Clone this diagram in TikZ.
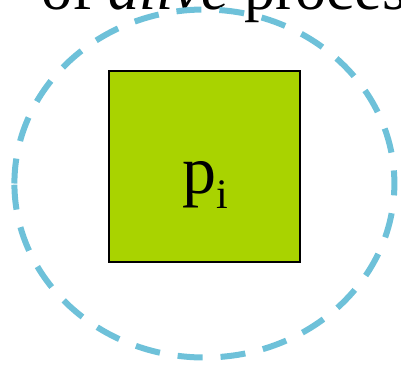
\documentclass[tikz,border=0pt]{standalone}
\usepackage{fontspec}
\setmainfont{Liberation Serif}
\definecolor{alblue}{HTML}{6EC1D9}
\definecolor{prgreen}{HTML}{A9D300}
\tikzset{
  procbox/.style  = {rectangle, draw=black, line width=2pt, fill=prgreen,
                     minimum size=191pt, inner sep=0pt},
  alivering/.style = {draw=alblue, line width=6pt,
                      dash pattern=on 25pt off 18pt},
  headtxt/.style  = {font=\fontsize{62}{62}\selectfont, inner sep=0pt, anchor=base west},
  pilbl/.style    = {font=\fontsize{68}{68}\selectfont, inner sep=0pt, anchor=base west},
}
\begin{document}
\begin{tikzpicture}[x=1pt,y=-1pt]
  \useasboundingbox (0,0) rectangle (401,365);
  \clip (0,0) rectangle (401,365);
  \node[headtxt] (head) at (41,9.5) {of \textit{alive} proces};
  \node[procbox] (proc) at (204.5,166.5) {};
  \node[pilbl] (plab) at (182,193) {p\raisebox{-15pt}{\fontsize{42}{42}\selectfont i}};
  % dashed set of alive processes, seam on the left
  \coordinate (alive) at (204.4,183.5);
  \draw[alivering] ([xshift=-190pt]alive)
    arc[start angle=180, end angle=540, x radius=190, y radius=174];
\end{tikzpicture}
\end{document}
